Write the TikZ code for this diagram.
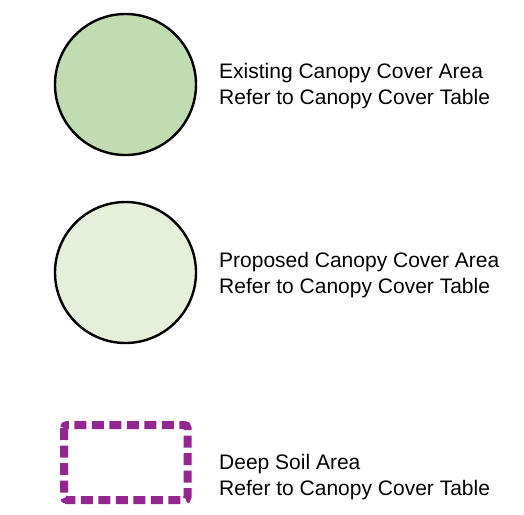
\documentclass[tikz,border=0pt]{standalone}
\usepackage{xcolor}
\usepackage{fontspec}
\setmainfont{Liberation Sans}
\usepackage{tikz}
\usetikzlibrary{calc}

\definecolor{existgreen}{HTML}{C2DCB1}
\definecolor{propgreen}{HTML}{E5EFDA}
\definecolor{soilpurple}{HTML}{93278F}

\begin{document}
\begin{tikzpicture}[x=1pt,y=-1pt,
    canopy/.style={circle,draw=black,line width=2.4pt,minimum size=141pt,inner sep=0pt},
    legendtext/.style={anchor=west,align=left,inner sep=0pt,font=\fontsize{21}{26}\selectfont},
    soilbox/.style={draw=soilpurple,line width=8pt,dash pattern=on 12pt off 5.5pt,rounded corners=3pt}]
                \useasboundingbox (0,0) rectangle (524,514);

                % existing canopy
                \node[canopy,fill=existgreen] (existing) at (125.5,84.5) {};
                \node[legendtext] (existinglabel) at (219,86)
                    {Existing Canopy Cover Area\\Refer to Canopy Cover Table};

                % proposed canopy
                \node[canopy,fill=propgreen] (proposed) at (125.5,272.5) {};
                \node[legendtext] (proposedlabel) at (219,275)
                    {Proposed Canopy Cover Area\\Refer to Canopy Cover Table};

                % deep soil
                \draw[soilbox] (64,425) rectangle (187.5,500);
                \node[legendtext] (soillabel) at (219,477)
                    {Deep Soil Area\\Refer to Canopy Cover Table};

            \end{tikzpicture}
\end{document}
